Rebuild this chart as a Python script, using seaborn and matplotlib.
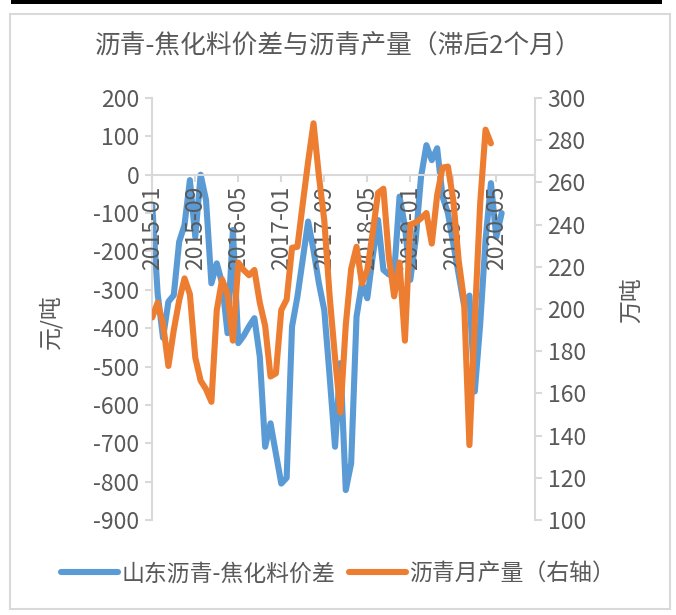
import matplotlib
matplotlib.use("Agg")
import matplotlib.pyplot as plt
import seaborn as sns
import pandas as pd
from matplotlib.patches import Rectangle
from matplotlib.lines import Line2D

# Monthly series from 2015-01
spread = [-80, -310, -425, -331, -314, -175, -131, -14, -162, 0,
          -66, -283, -231, -283, -413, -144, -439, -420, -395, -374,
          -474, -709, -648, -727, -805, -790, -396, -318, -220, -122,
          -197, -283, -353, -526, -709, -491, -822, -752, -370, -283,
          -322, -214, -118, -248, -260, -257, -57, -135, -274, -170,
          -5, 77, 38, 69, -57, -100, -180, -260, -340, -315,
          -565, -390, -170, -22, -162, -100]
output = [196, 203, 193, 173, 190, 204, 214.5, 207, 177, 166,
          162, 156, 199.5, 214, 207, 185, 222, 218.5, 216, 218.5,
          203, 192, 168, 169.5, 199.5, 204.5, 229, 229.5, 250, 270,
          288, 263, 242, 206, 177, 151, 192.5, 219, 229.5, 212,
          218.5, 236, 255, 257, 225, 206, 222, 185, 240, 241,
          243, 245.5, 231, 254, 267, 267.5, 251.5, 223, 204, 135.5,
          195, 250, 285, 278.5]
tick_labels = ["2015-01", "2015-09", "2016-05", "2017-01", "2017-09",
               "2018-05", "2019-01", "2019-09", "2020-05"]

title = "沥青-焦化料价差与沥青产量（滞后2个月）"
name_spread = "山东沥青-焦化料价差"
name_output = "沥青月产量（右轴）"

months = pd.date_range("2015-01-01", periods=len(spread), freq="MS")
df_spread = pd.DataFrame({"idx": range(len(spread)), "val": spread})
df_output = pd.DataFrame({"idx": range(len(output)), "val": output})
month_str = months.strftime("%Y-%m").tolist()
tick_pos = [month_str.index(t) for t in tick_labels]

sns.set_style("white")
plt.rcParams["font.family"] = ["Noto Sans CJK SC", "DejaVu Sans"]
plt.rcParams["axes.unicode_minus"] = False

BLUE = "#5B9BD5"
ORANGE = "#ED7D31"
TXT = "#595959"
GRID = "#D9D9D9"
FS = 16.5

LEFT_MIN, LEFT_MAX = -900, 200
RIGHT_MIN, RIGHT_MAX = 100, 300

W, H = 676, 615
fig = plt.figure(figsize=(W / 100, H / 100), dpi=100)

# outer frame and top bar
fig.patches.append(Rectangle((10 / W, 1 - 609 / H), 660 / W, 595 / H,
                             transform=fig.transFigure, fill=False,
                             edgecolor=GRID, linewidth=1.5))
fig.patches.append(Rectangle((11 / W, 1 - 4 / H), 651 / W, 4 / H,
                             transform=fig.transFigure, facecolor="black",
                             edgecolor="none"))

ax = fig.add_axes([152 / W, 1 - 520 / H, 383 / W, 422 / H])
ax2 = ax.twinx()

line_kw = dict(linewidth=4.4, solid_capstyle="round", solid_joinstyle="round")
sns.lineplot(data=df_spread, x="idx", y="val", ax=ax, color=BLUE, **line_kw)
sns.lineplot(data=df_output, x="idx", y="val", ax=ax2, color=ORANGE, **line_kw)
ax2.set_zorder(ax.get_zorder() + 1)
ax2.patch.set_visible(False)

ax.set_xlim(-0.05, 71.2)
ax.set_ylim(LEFT_MIN, LEFT_MAX)
ax2.set_ylim(RIGHT_MIN, RIGHT_MAX)
ax.set_yticks(range(LEFT_MIN, LEFT_MAX + 1, 100))
ax2.set_yticks(range(RIGHT_MIN, RIGHT_MAX + 1, 20))

for a in (ax, ax2):
    for s in a.spines.values():
        s.set_visible(False)
    a.set_xlabel("")
    a.set_ylabel("")

# category axis sits on the left-axis zero line, drawn on the top axes
# so that its labels stay above both lines
ax.tick_params(axis="x", bottom=False, labelbottom=False)
ax2.xaxis.set_visible(True)
ax2.set_xticks(tick_pos)
ax2.set_xticklabels(tick_labels)
zero_frac = (0 - LEFT_MIN) / (LEFT_MAX - LEFT_MIN)
ax2.spines["bottom"].set_visible(True)
ax2.spines["bottom"].set_position(("axes", zero_frac))
ax2.spines["bottom"].set_color(GRID)
ax2.spines["bottom"].set_linewidth(1.5)
ax2.spines["bottom"].set_zorder(0.5)
ax2.tick_params(axis="x", bottom=True, labelbottom=True, top=False,
                labeltop=False, direction="out", length=5, width=1.5,
                color=GRID, labelcolor=TXT, labelsize=FS, pad=3,
                labelrotation=90)

ax.spines["left"].set_visible(True)
ax.spines["left"].set_color(GRID)
ax.spines["left"].set_linewidth(1.5)
ax2.spines["right"].set_visible(True)
ax2.spines["right"].set_color(GRID)
ax2.spines["right"].set_linewidth(1.5)

ax.tick_params(axis="y", which="both", left=True, direction="out", length=5,
               width=1.5, color=GRID, labelcolor=TXT, labelsize=FS, pad=4)
ax2.tick_params(axis="y", right=True, direction="out", length=5, width=1.5,
                color=GRID, labelcolor=TXT, labelsize=FS, pad=4)

ax.set_ylabel("元/吨", fontsize=FS, color=TXT)
ax.yaxis.set_label_coords(-0.235, 0.47)
ax2.set_ylabel("万吨", fontsize=FS, color=TXT)
ax2.yaxis.set_label_coords(1.222, 0.52)

fig.text(0.5, 1 - 47 / H, title, ha="center", va="center",
         fontsize=18.5, color=TXT)

handles = [Line2D([], [], color=BLUE, linewidth=4.4, solid_capstyle="round"),
           Line2D([], [], color=ORANGE, linewidth=4.4, solid_capstyle="round")]
fig.legend(handles, [name_spread, name_output], loc="center",
           bbox_to_anchor=(0.5, 1 - 574 / H), ncol=2, frameon=False,
           fontsize=FS, labelcolor=TXT, handlelength=2.5, handletextpad=0.15,
           columnspacing=0.6)

fig.savefig("out.png", dpi=100, facecolor="white")
